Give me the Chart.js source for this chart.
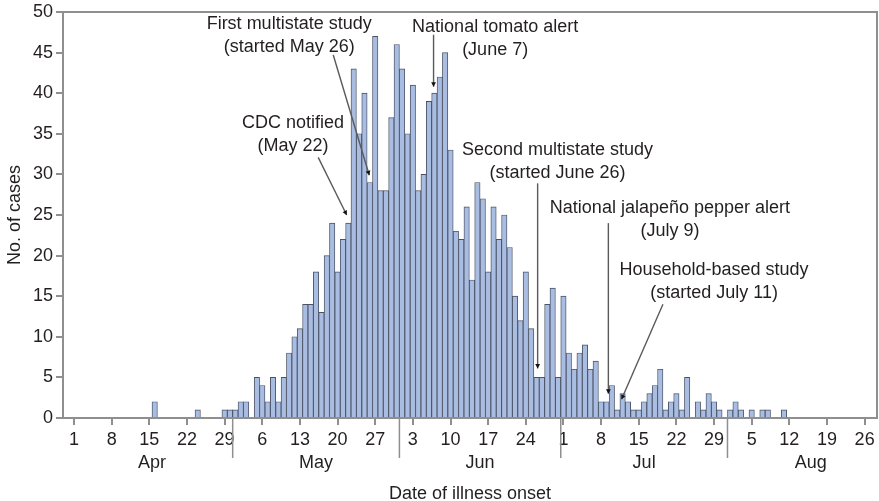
<!DOCTYPE html>
<html>
<head>
<meta charset="utf-8">
<script src="https://cdn.jsdelivr.net/npm/chart.js@4.4.1/dist/chart.umd.min.js"></script>
<style>
	html, body { margin: 0; padding: 0; background: #fff; }
</style>
</head>
<body>
<canvas id="chart" width="879" height="501"></canvas>
<script>
const CHART = document.getElementById("chart");
const FONT = "'Liberation Sans', Arial, Helvetica, sans-serif";
const TEXT_COLOR = "#231f20";
const AXIS_COLOR = "#8f8f8f";

// daily case counts, day 0 = April 1
const MONTHS = ["Apr", "May", "Jun", "Jul", "Aug"];
const MONTH_DAYS = [30, 31, 30, 31, 31];

const aprCases = [0, 0, 0, 0, 0, 0, 0, 0, 0, 0, 0, 0, 0, 0, 0, 2, 0, 0, 0, 0, 0, 0, 0, 1, 0, 0, 0, 0, 1, 1];
const mayCases = [1, 2, 2, 0, 5, 4, 2, 5, 2, 5, 8, 10, 11, 14, 14, 18, 13, 20, 24, 18, 22, 24, 43, 35, 40, 29, 47, 28, 28, 37, 46];
const junCases = [43, 35, 41, 28, 30, 39, 40, 42, 45, 33, 23, 22, 26, 17, 29, 27, 18, 26, 22, 25, 21, 15, 12, 18, 11, 5, 5, 14, 16, 5];
const julCases = [15, 8, 6, 8, 9, 6, 7, 2, 2, 4, 1, 3, 2, 1, 1, 2, 3, 4, 6, 1, 2, 3, 1, 5, 0, 2, 1, 3, 2, 1, 0];
const augCases = [1, 2, 1, 0, 1, 0, 1, 1, 0, 0, 1];

const tickLabels = ["1", "8", "15", "22", "29", "6", "13", "20", "27", "3", "10", "17", "24", "1", "8", "15", "22", "29", "5", "12", "19", "26"];
const yTicks = [0, 5, 10, 15, 20, 25, 30, 35, 40, 45, 50];

// annotation text anchors and arrows, in (day, cases) units
const notes = [
	{ lines: ["First multistate study", "(started May 26)"], at: [40, 48.5], from: [48.2, 44.7], to: [54.9, 29.9] },
	{ lines: ["CDC notified", "(May 22)"], at: [40.7, 36.3], from: [45.4, 32.1], to: [50.7, 25.0] },
	{ lines: ["National tomato alert", "(June 7)"], at: [78.3, 48.1], from: [66.85, 47.2], to: [66.85, 40.8] },
	{ lines: ["Second multistate study", "(started June 26)"], at: [89.9, 33.0], from: [86.2, 28.9], to: [86.2, 6.1] },
	{ lines: ["National jalape\u00f1o pepper alert", "(July 9)"], at: [110.8, 25.8], from: [99.35, 24.0], to: [99.35, 3.0] },
	{ lines: ["Household-based study", "(started July 11)"], at: [119, 18.2], from: [109.5, 14.0], to: [101.8, 2.3] },
];

const dailyCases = [...aprCases, ...mayCases, ...junCases, ...julCases, ...augCases];
const points = dailyCases.map((v, i) => ({ x: i, y: v > 0 ? v : null }));
const tickDays = tickLabels.map((_, i) => i * 7);

const extras = {
	id: "extras",
	afterDraw(chart) {
		const { ctx, chartArea: a, scales } = chart;
		const x = scales.x;
		const y = scales.y;
		ctx.save();

		// frame round the plot
		ctx.strokeStyle = AXIS_COLOR;
		ctx.lineWidth = 2;
		ctx.strokeRect(a.left, a.top, a.right - a.left, a.bottom - a.top);

		// month separators and month names
		ctx.font = "18px " + FONT;
		ctx.fillStyle = TEXT_COLOR;
		ctx.textAlign = "center";
		ctx.textBaseline = "middle";
		let start = 0;
		MONTHS.forEach((m, i) => {
			const len = MONTH_DAYS[i];
			if (i > 0) {
				const px = x.getPixelForValue(start - 0.5);
				ctx.beginPath();
				ctx.moveTo(px, a.bottom);
				ctx.lineTo(px, a.bottom + 40);
				ctx.lineWidth = 1.5;
				ctx.strokeStyle = AXIS_COLOR;
				ctx.stroke();
			}
			ctx.fillText(m, x.getPixelForValue(start + len / 2 - 0.5), a.bottom + 45);
			start += len;
		});

		// annotations
		notes.forEach((n) => {
			const tx = x.getPixelForValue(n.at[0]);
			const ty = y.getPixelForValue(n.at[1]);
			n.lines.forEach((line, k) => ctx.fillText(line, tx, ty + k * 23));

			const x1 = x.getPixelForValue(n.from[0]);
			const y1 = y.getPixelForValue(n.from[1]);
			const x2 = x.getPixelForValue(n.to[0]);
			const y2 = y.getPixelForValue(n.to[1]);
			ctx.beginPath();
			ctx.moveTo(x1, y1);
			ctx.lineTo(x2, y2);
			ctx.strokeStyle = "#5a5a5a";
			ctx.lineWidth = 1.4;
			ctx.stroke();

			// little arrow head
			const ang = Math.atan2(y2 - y1, x2 - x1);
			ctx.beginPath();
			ctx.moveTo(x2, y2);
			ctx.lineTo(x2 - 5 * Math.cos(ang - 0.5), y2 - 5 * Math.sin(ang - 0.5));
			ctx.lineTo(x2 - 5 * Math.cos(ang + 0.5), y2 - 5 * Math.sin(ang + 0.5));
			ctx.closePath();
			ctx.fillStyle = "#111";
			ctx.fill();
			ctx.fillStyle = TEXT_COLOR;
		});

		ctx.restore();
	},
};

const drawChart = () => {
	const ctx = CHART.getContext("2d");

	new Chart(ctx, {
		type: "bar",
		data: {
			datasets: [
				{
					label: "Cases",
					data: points,
					backgroundColor: "#a9bde2",
					borderColor: "#4a5264",
					borderWidth: 0.9,
					barPercentage: 1,
					categoryPercentage: 1,
				},
			],
		},
		options: {
			responsive: false,
			animation: false,
			layout: { padding: { top: 12, right: 2, bottom: 0, left: 0 } },
			plugins: {
				legend: { display: false },
				tooltip: { enabled: false },
			},
			scales: {
				x: {
					type: "linear",
					min: -2.05,
					max: 149.3,
					offset: false,
					afterBuildTicks: (s) => {
						s.ticks = tickDays.map((v) => ({ value: v }));
					},
					afterFit: (s) => {
						s.height = 83;
						s.paddingLeft = 0;
						s.paddingRight = 0;
					},
					ticks: {
						autoSkip: false,
						maxRotation: 0,
						padding: 4,
						color: TEXT_COLOR,
						font: { family: FONT, size: 18 },
						callback: (v, i) => tickLabels[i],
					},
					grid: {
						offset: false,
						drawOnChartArea: false,
						drawTicks: true,
						tickLength: 7,
						color: AXIS_COLOR,
						lineWidth: 2,
					},
					border: { display: true, color: AXIS_COLOR, width: 2 },
					title: {
						display: true,
						text: "Date of illness onset",
						color: TEXT_COLOR,
						font: { family: FONT, size: 18, lineHeight: 0.8 },
						padding: { top: 0, bottom: 0 },
					},
				},
				y: {
					min: 0,
					max: 50,
					afterBuildTicks: (s) => {
						s.ticks = yTicks.map((v) => ({ value: v }));
					},
					afterFit: (s) => {
						s.width = 63;
						s.paddingTop = 0;
						s.paddingBottom = 0;
					},
					ticks: {
						padding: 3,
						color: TEXT_COLOR,
						font: { family: FONT, size: 18 },
					},
					grid: {
						drawOnChartArea: false,
						drawTicks: true,
						tickLength: 7,
						color: AXIS_COLOR,
						lineWidth: 2,
					},
					border: { display: true, color: AXIS_COLOR, width: 2 },
					title: {
						display: true,
						text: "No. of cases",
						color: TEXT_COLOR,
						font: { family: FONT, size: 18 },
						padding: { top: 4, bottom: 0 },
					},
				},
			},
		},
		plugins: [extras],
	});
};

drawChart();
</script>
</body>
</html>
